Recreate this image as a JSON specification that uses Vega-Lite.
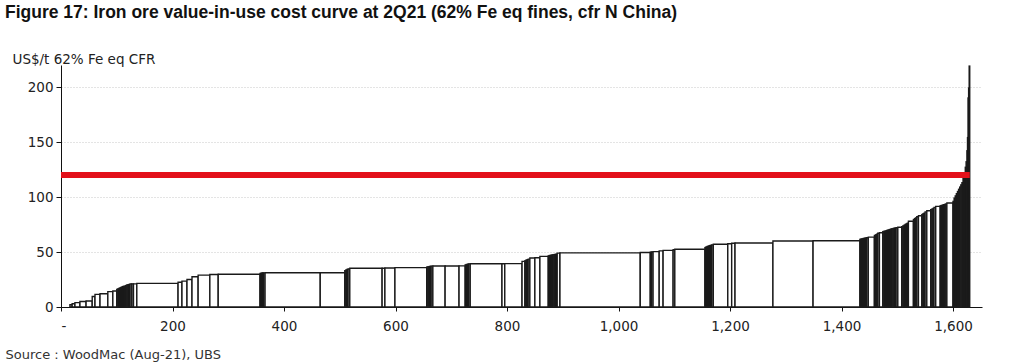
{
  "$schema": "https://vega.github.io/schema/vega-lite/v6.json",
  "width": 921,
  "height": 242,
  "autosize": "none",
  "padding": {"left": 61, "top": 65, "right": 41, "bottom": 56},
  "background": "white",
  "title": {
    "text": "Figure 17: Iron ore value-in-use cost curve at 2Q21 (62% Fe eq fines, cfr N China)",
    "anchor": "start",
    "frame": "group",
    "dx": -56,
    "offset": 31,
    "font": "Liberation Sans",
    "fontSize": 17.5,
    "fontWeight": "bold",
    "color": "#111"
  },
  "config": {
    "view": {"stroke": null},
    "axis": {
      "labelFont": "DejaVu Sans",
      "labelFontSize": 13.5,
      "labelColor": "#222",
      "titleFont": "DejaVu Sans",
      "titleFontWeight": "normal",
      "titleColor": "#222",
      "domainColor": "#111",
      "tickColor": "#111"
    }
  },
  "datasets": {
    "bars": [
      {"x0":16,"x1":20,"c":2},{"x0":20,"x1":25,"c":3},{"x0":25,"x1":34,"c":4},{"x0":34,"x1":45,"c":5},{"x0":45,"x1":56,"c":5.5},
      {"x0":56,"x1":61,"c":9.5},{"x0":61,"x1":70,"c":11.5},{"x0":70,"x1":84,"c":12},{"x0":84,"x1":93,"c":14},{"x0":93,"x1":100,"c":14.5},
      {"x0":100,"x1":102,"c":16},{"x0":102,"x1":104,"c":16.5},{"x0":104,"x1":106,"c":17},{"x0":106,"x1":108,"c":17.5},{"x0":108,"x1":110,"c":18},{"x0":110,"x1":112,"c":18.5},{"x0":112,"x1":114,"c":18.8},{"x0":114,"x1":116,"c":19},{"x0":116,"x1":118,"c":19.5},
      {"x0":118,"x1":120,"c":20},{"x0":120,"x1":122,"c":20.3},{"x0":122,"x1":124,"c":20.5},{"x0":124,"x1":127,"c":21},{"x0":127,"x1":130,"c":21},{"x0":130,"x1":136,"c":21},
      {"x0":136,"x1":210,"c":21.5},{"x0":210,"x1":217,"c":22.5},{"x0":217,"x1":226,"c":23.5},{"x0":226,"x1":235,"c":25},{"x0":235,"x1":246,"c":27.5},
      {"x0":246,"x1":267,"c":29},{"x0":267,"x1":282,"c":29.5},{"x0":282,"x1":357,"c":29.8},
      {"x0":357,"x1":359,"c":30.5},{"x0":359,"x1":361,"c":30.8},{"x0":361,"x1":363,"c":31},{"x0":363,"x1":366,"c":31},
      {"x0":366,"x1":465,"c":31.2},{"x0":465,"x1":509,"c":31.2},
      {"x0":509,"x1":511,"c":33},{"x0":511,"x1":513,"c":33.7},{"x0":513,"x1":515,"c":34.2},{"x0":515,"x1":518,"c":34.5},
      {"x0":518,"x1":576,"c":35.2},{"x0":576,"x1":581,"c":35.2},{"x0":581,"x1":599,"c":35.5},{"x0":599,"x1":656,"c":35.8},
      {"x0":656,"x1":658,"c":36.3},{"x0":658,"x1":660,"c":36.5},{"x0":660,"x1":662,"c":36.7},{"x0":662,"x1":664,"c":37},{"x0":664,"x1":667,"c":37.2},
      {"x0":667,"x1":689,"c":37.3},{"x0":689,"x1":714,"c":37.3},{"x0":714,"x1":725,"c":37.4},
      {"x0":725,"x1":727,"c":38.3},{"x0":727,"x1":729,"c":38.6},{"x0":729,"x1":731,"c":38.9},{"x0":731,"x1":734,"c":39.2},
      {"x0":734,"x1":791,"c":39.3},{"x0":791,"x1":796,"c":39.3},{"x0":796,"x1":827,"c":39.4},{"x0":827,"x1":832,"c":41.5},
      {"x0":832,"x1":834,"c":42},{"x0":834,"x1":836,"c":42.6},{"x0":836,"x1":838,"c":43},{"x0":838,"x1":841,"c":43.5},
      {"x0":841,"x1":850,"c":44.5},{"x0":850,"x1":859,"c":44.8},{"x0":859,"x1":874,"c":46},
      {"x0":874,"x1":876,"c":46.5},{"x0":876,"x1":878,"c":46.8},{"x0":878,"x1":880,"c":47},{"x0":880,"x1":882,"c":47.2},{"x0":882,"x1":884,"c":47.4},{"x0":884,"x1":886,"c":47.6},{"x0":886,"x1":888,"c":47.8},{"x0":888,"x1":890,"c":48},
      {"x0":890,"x1":895,"c":49},{"x0":895,"x1":1039,"c":49.2},{"x0":1039,"x1":1057,"c":49.5},
      {"x0":1057,"x1":1059,"c":49.8},{"x0":1059,"x1":1062,"c":50},{"x0":1062,"x1":1073,"c":50.3},{"x0":1073,"x1":1080,"c":51},{"x0":1080,"x1":1098,"c":51.5},
      {"x0":1098,"x1":1101,"c":52},{"x0":1101,"x1":1155,"c":52.5},
      {"x0":1155,"x1":1157,"c":54},{"x0":1157,"x1":1159,"c":54.6},{"x0":1159,"x1":1161,"c":55},{"x0":1161,"x1":1163,"c":55.4},{"x0":1163,"x1":1165,"c":55.8},{"x0":1165,"x1":1167,"c":56},{"x0":1167,"x1":1170,"c":56.5},
      {"x0":1170,"x1":1196,"c":57},{"x0":1196,"x1":1203,"c":57.5},{"x0":1203,"x1":1209,"c":58},{"x0":1209,"x1":1277,"c":58.2},
      {"x0":1277,"x1":1349,"c":60},{"x0":1349,"x1":1433,"c":60.2},
      {"x0":1433,"x1":1435,"c":61.5},{"x0":1435,"x1":1437,"c":61.8},{"x0":1437,"x1":1439,"c":62},{"x0":1439,"x1":1441,"c":62.3},{"x0":1441,"x1":1443,"c":62.5},{"x0":1443,"x1":1445,"c":62.7},{"x0":1445,"x1":1448,"c":63},
      {"x0":1448,"x1":1459,"c":63.5},
      {"x0":1459,"x1":1461,"c":65},{"x0":1461,"x1":1463,"c":65.6},{"x0":1463,"x1":1465,"c":66.2},{"x0":1465,"x1":1468,"c":67},
      {"x0":1468,"x1":1474,"c":67.5},
      {"x0":1474,"x1":1476,"c":68.5},{"x0":1476,"x1":1478,"c":68.8},{"x0":1478,"x1":1480,"c":69},{"x0":1480,"x1":1482,"c":69.4},{"x0":1482,"x1":1484,"c":69.8},{"x0":1484,"x1":1486,"c":70},{"x0":1486,"x1":1488,"c":70.4},{"x0":1488,"x1":1490,"c":70.8},{"x0":1490,"x1":1492,"c":71},{"x0":1492,"x1":1494,"c":71.3},{"x0":1494,"x1":1496,"c":71.6},{"x0":1496,"x1":1498,"c":71.8},{"x0":1498,"x1":1501,"c":72},
      {"x0":1501,"x1":1508,"c":72.5},
      {"x0":1508,"x1":1510,"c":73},{"x0":1510,"x1":1512,"c":73.7},{"x0":1512,"x1":1514,"c":74.3},{"x0":1514,"x1":1516,"c":75},{"x0":1516,"x1":1518,"c":75.6},{"x0":1518,"x1":1520,"c":76.2},
      {"x0":1520,"x1":1529,"c":78},
      {"x0":1529,"x1":1531,"c":79.5},{"x0":1531,"x1":1533,"c":80.4},{"x0":1533,"x1":1535,"c":81},{"x0":1535,"x1":1538,"c":82},
      {"x0":1538,"x1":1544,"c":83},
      {"x0":1544,"x1":1546,"c":84},{"x0":1546,"x1":1548,"c":84.7},{"x0":1548,"x1":1550,"c":85.3},{"x0":1550,"x1":1553,"c":86.5},
      {"x0":1553,"x1":1560,"c":87.5},
      {"x0":1560,"x1":1562,"c":88.5},{"x0":1562,"x1":1564,"c":89},{"x0":1564,"x1":1566,"c":89.6},{"x0":1566,"x1":1569,"c":90.5},
      {"x0":1569,"x1":1577,"c":91.5},
      {"x0":1577,"x1":1579,"c":92},{"x0":1579,"x1":1581,"c":92.3},{"x0":1581,"x1":1583,"c":92.6},{"x0":1583,"x1":1585,"c":93},{"x0":1585,"x1":1587,"c":93.3},{"x0":1587,"x1":1589,"c":93.6},
      {"x0":1589,"x1":1600,"c":94.5},
      {"x0":1600,"x1":1602,"c":96},{"x0":1602,"x1":1604,"c":99},{"x0":1604,"x1":1606,"c":101},{"x0":1606,"x1":1608,"c":103},{"x0":1608,"x1":1610,"c":105},{"x0":1610,"x1":1612,"c":107},{"x0":1612,"x1":1614,"c":109},{"x0":1614,"x1":1616,"c":111},
      {"x0":1616,"x1":1618,"c":113},{"x0":1618,"x1":1620,"c":117},{"x0":1620,"x1":1622,"c":121},{"x0":1622,"x1":1623.5,"c":127},{"x0":1623.5,"x1":1625,"c":132},
      {"x0":1625,"x1":1626,"c":142},{"x0":1626,"x1":1627,"c":154},{"x0":1627,"x1":1628,"c":190},{"x0":1628,"x1":1629,"c":199},{"x0":1629,"x1":1630,"c":219}
    ],
    "price": [{"x0":0,"x1":1630,"c":120}]
  },
  "layer": [
    {
      "data": {"name": "bars"},
      "mark": {"type": "rect", "fill": "white", "stroke": "#1a1a1a", "strokeWidth": 1.4},
      "encoding": {
        "x": {
          "field": "x0", "type": "quantitative",
          "scale": {"domain": [0, 1652], "nice": false, "zero": true},
          "axis": {
            "values": [0, 200, 400, 600, 800, 1000, 1200, 1400, 1600],
            "labelExpr": "datum.value == 0 ? '-' : format(datum.value, ',')",
            "tickSize": 4,
            "labelPadding": 8,
            "grid": false,
            "title": "Source : WoodMac (Aug-21), UBS",
            "titleFontSize": 13,
            "titleColor": "#333",
            "titleAnchor": "start",
            "titleAlign": "left",
            "titleBaseline": "middle",
            "titleX": -56,
            "titleY": 47
          }
        },
        "x2": {"field": "x1"},
        "y": {
          "field": "c", "type": "quantitative",
          "scale": {"domain": [0, 220], "nice": false},
          "axis": {
            "values": [0, 50, 100, 150, 200],
            "tickSize": 5,
            "labelPadding": 3,
            "grid": true,
            "gridColor": "#c8c8c8",
            "gridDash": [1, 2],
            "gridWidth": 1,
            "title": "US$/t 62% Fe eq CFR",
            "titleFontSize": 13.5,
            "titleAngle": 0,
            "titleAlign": "left",
            "titleBaseline": "middle",
            "titleX": -49,
            "titleY": -6
          }
        },
        "y2": {"datum": 0}
      }
    },
    {
      "data": {"name": "price"},
      "mark": {"type": "rule", "color": "#e3101a", "strokeWidth": 6},
      "encoding": {
        "x": {"field": "x0", "type": "quantitative"},
        "x2": {"field": "x1"},
        "y": {"field": "c", "type": "quantitative"}
      }
    }
  ]
}
